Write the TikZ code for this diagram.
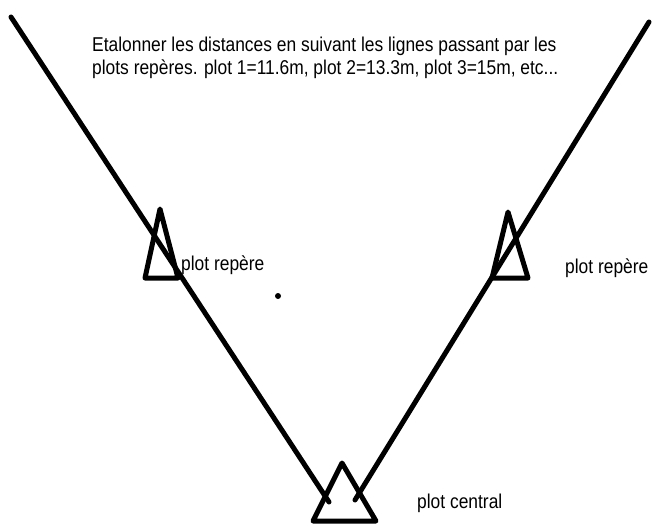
\documentclass[tikz,border=0pt]{standalone}
\usepackage{fontspec}
\setmainfont{Liberation Sans}
\newfontfamily\notefont[FakeStretch=0.87]{Liberation Sans}
\usetikzlibrary{positioning}

\begin{document}
\begin{tikzpicture}[
    x=1pt, y=-1pt,
    line/.style={line width=5pt, line cap=round},
    plot/.style={line width=5pt, line join=round},
    lbl/.style={inner sep=0pt, anchor=base west, font=\notefont\fontsize{20}{22.5}\selectfont},
]
\useasboundingbox (0,0) rectangle (654,525);

% Lines through the marker plots
\coordinate (topL) at (11,17);
\coordinate (endL) at (329,502);
\coordinate (topR) at (649,22);
\coordinate (endR) at (355,500);
\draw[line] (topL) -- (endL);
\draw[line] (topR) -- (endR);

% Plots (triangles)
\draw[plot] (160,209) -- (178,278) -- (145,278) -- cycle;
\draw[plot] (508,212) -- (528,278) -- (492,278) -- cycle;
\draw[plot] (342,463) -- (376,521) -- (313,521) -- cycle;

% Dot
\fill (278,296) circle (3);

% Labels
\node[lbl, anchor=north west, align=left] (note) at (92,37)
    {Etalonner les distances en suivant les lignes passant par les\\
     plots repères. plot 1=11.6m, plot 2=13.3m, plot 3=15m, etc...};
\node[lbl] (repL) at (181,270) {plot repère};
\node[lbl] (repR) at (565,273) {plot repère};
\node[lbl] (central) at (417,508) {plot central};

\end{tikzpicture}
\end{document}
